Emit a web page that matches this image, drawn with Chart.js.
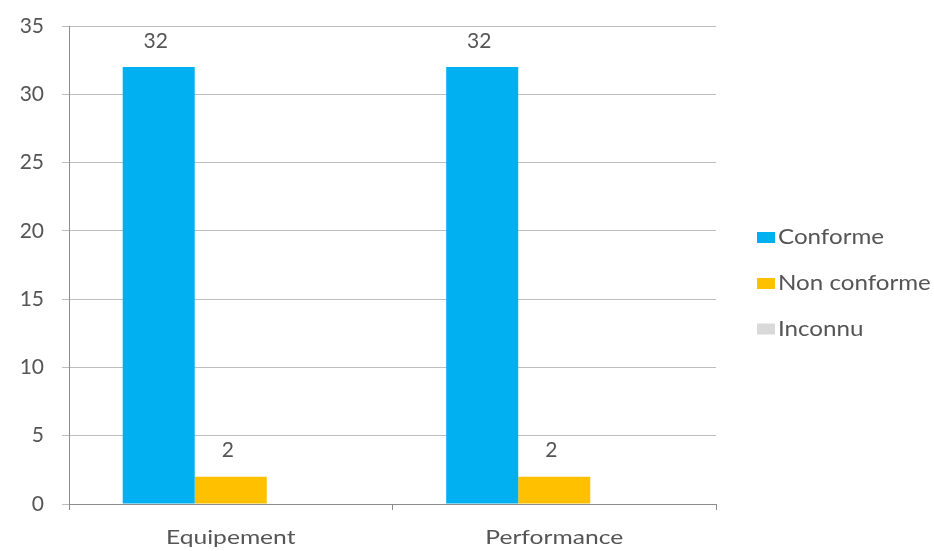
<!DOCTYPE html>
<html lang="fr">
<head>
    <meta charset="UTF-8">
    <title>Conformité</title>
    <script src="https://cdn.jsdelivr.net/npm/chart.js"></script>
    <style>
        html, body {
            margin: 0;
            padding: 0;
            background: #ffffff;
        }

        #wrap {
            width: 934px;
            height: 551px;
        }
    </style>
</head>
<body>
    <div id="wrap">
        <canvas id="conformiteChart" width="934" height="551"></canvas>
    </div>

    <script>
        // Categories and series
        const categories = ['Equipement', 'Performance'];
        const seriesNames = ['Conforme', 'Non conforme', 'Inconnu'];
        const conforme = [32, 32];
        const nonConforme = [2, 2];
        const inconnu = [0, 0];
        const yTicks = [0, 5, 10, 15, 20, 25, 30, 35];

        const colors = ['#00B0F0', '#FFC000', '#D9D9D9'];
        const FONT = 'Lato, "Open Sans", sans-serif';
        const TEXT = '#555555';

        // Draws text stretched horizontally around (x, y)
        function wideText(ctx, str, x, y, sx, align) {
            ctx.save();
            ctx.translate(x, y);
            ctx.scale(sx, 1);
            ctx.textAlign = align;
            ctx.fillText(str, 0, 0);
            ctx.restore();
        }

        // Value labels above each non-zero bar
        const valueLabels = {
            id: 'valueLabels',
            afterDatasetsDraw(chart) {
                const ctx = chart.ctx;
                ctx.save();
                ctx.font = '21px ' + FONT;
                ctx.fillStyle = TEXT;
                ctx.textAlign = 'center';
                ctx.textBaseline = 'middle';
                chart.data.datasets.forEach((ds, i) => {
                    const meta = chart.getDatasetMeta(i);
                    meta.data.forEach((bar, j) => {
                        const v = ds.data[j];
                        if (!v) return;
                        ctx.fillText(String(v), bar.x - 3, bar.y - 26);
                    });
                });
                ctx.restore();
            }
        };

        // Category names under the x axis
        const categoryLabels = {
            id: 'categoryLabels',
            afterDraw(chart) {
                const ctx = chart.ctx;
                const xs = chart.scales.x;
                ctx.save();
                ctx.font = '20px ' + FONT;
                ctx.fillStyle = TEXT;
                ctx.textBaseline = 'middle';
                chart.data.labels.forEach((lbl, i) => {
                    wideText(ctx, lbl, xs.getPixelForTick(i), 538, 1.23, 'center');
                });
                ctx.restore();
            }
        };

        // Legend column on the right
        const sideLegend = {
            id: 'sideLegend',
            afterDraw(chart) {
                const ctx = chart.ctx;
                const x = 757;
                const rows = [237.5, 283.5, 329];
                ctx.save();
                ctx.font = '21px ' + FONT;
                ctx.textBaseline = 'middle';
                chart.data.datasets.forEach((ds, i) => {
                    const y = rows[i];
                    ctx.fillStyle = ds.backgroundColor;
                    ctx.fillRect(x, y - 5.5, 18, 11);
                    ctx.fillStyle = TEXT;
                    wideText(ctx, ds.label, x + 21, y, 1.15, 'left');
                });
                ctx.restore();
            }
        };

        new Chart(document.getElementById('conformiteChart'), {
            type: 'bar',
            data: {
                labels: categories,
                datasets: [
                    { label: seriesNames[0], data: conforme, backgroundColor: colors[0] },
                    { label: seriesNames[1], data: nonConforme, backgroundColor: colors[1] },
                    { label: seriesNames[2], data: inconnu, backgroundColor: colors[2] }
                ]
            },
            options: {
                responsive: false,
                animation: false,
                layout: {
                    padding: { top: 26, right: 218, bottom: 0, left: 0 }
                },
                datasets: {
                    bar: {
                        categoryPercentage: 0.668,
                        barPercentage: 1.0
                    }
                },
                plugins: {
                    legend: { display: false },
                    tooltip: { enabled: false }
                },
                scales: {
                    x: {
                        offset: true,
                        grid: {
                            offset: true,
                            drawOnChartArea: false,
                            drawTicks: true,
                            tickLength: 6,
                            color: '#8C8C8C'
                        },
                        border: { color: '#8C8C8C', width: 1 },
                        ticks: {
                            color: 'rgba(0,0,0,0)',
                            font: { family: FONT, size: 20 },
                            padding: 18
                        },
                        afterFit(scale) {
                            scale.height = 47;
                            scale.paddingLeft = 0;
                            scale.paddingRight = 0;
                        }
                    },
                    y: {
                        min: 0,
                        max: 35,
                        afterBuildTicks(scale) {
                            scale.ticks = yTicks.map(v => ({ value: v }));
                        },
                        grid: {
                            color: '#BDBDBD',
                            tickLength: 7,
                            drawTicks: true
                        },
                        border: { color: '#8C8C8C', width: 1 },
                        ticks: {
                            color: TEXT,
                            font: { family: FONT, size: 21 },
                            padding: 18
                        },
                        afterFit(scale) {
                            scale.width = 69;
                            scale.paddingTop = 0;
                            scale.paddingBottom = 0;
                        }
                    }
                }
            },
            plugins: [valueLabels, categoryLabels, sideLegend]
        });
    </script>
</body>
</html>
